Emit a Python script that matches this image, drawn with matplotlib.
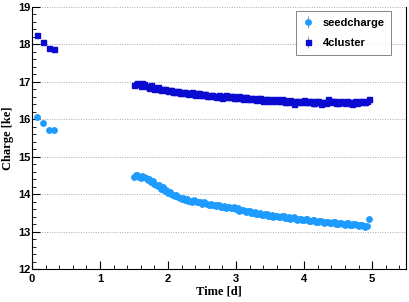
import matplotlib
matplotlib.use("Agg")
import matplotlib.pyplot as plt
from matplotlib.ticker import MultipleLocator

# early measurements (first hours)
t_early = [0.07, 0.16, 0.25, 0.33]
seed_early = [16.06, 15.90, 15.71, 15.71]
clus_early = [18.25, 18.06, 17.90, 17.87]

# long run, time in days
t_run = [1.500, 1.525, 1.550, 1.575, 1.600, 1.625, 1.650, 1.675, 1.700, 1.725,
         1.750, 1.775, 1.800, 1.825, 1.850, 1.875, 1.900, 1.925, 1.950, 1.975,
         2.000, 2.025, 2.050, 2.075, 2.100, 2.125, 2.150, 2.175, 2.200, 2.225,
         2.250, 2.275, 2.300, 2.325, 2.350, 2.375, 2.400, 2.425, 2.450, 2.475,
         2.500, 2.525, 2.550, 2.575, 2.600, 2.625, 2.650, 2.675, 2.700, 2.725,
         2.750, 2.775, 2.800, 2.825, 2.850, 2.875, 2.900, 2.925, 2.950, 2.975,
         3.000, 3.025, 3.050, 3.075, 3.100, 3.125, 3.150, 3.175, 3.200, 3.225,
         3.250, 3.275, 3.300, 3.325, 3.350, 3.375, 3.400, 3.425, 3.450, 3.475,
         3.500, 3.525, 3.550, 3.575, 3.600, 3.625, 3.650, 3.675, 3.700, 3.725,
         3.750, 3.775, 3.800, 3.825, 3.850, 3.875, 3.900, 3.925, 3.950, 3.975,
         4.000, 4.025, 4.050, 4.075, 4.100, 4.125, 4.150, 4.175, 4.200, 4.225,
         4.250, 4.275, 4.300, 4.325, 4.350, 4.375, 4.400, 4.425, 4.450, 4.475,
         4.500, 4.525, 4.550, 4.575, 4.600, 4.625, 4.650, 4.675, 4.700, 4.725,
         4.750, 4.775, 4.800, 4.825, 4.850, 4.875, 4.900, 4.925, 4.950]

clus_run = [16.92, 16.95, 16.97, 16.93, 16.90, 16.96, 16.95, 16.89, 16.88, 16.84,
            16.91, 16.85, 16.82, 16.84, 16.86, 16.80, 16.78, 16.81, 16.80, 16.77,
            16.75, 16.79, 16.78, 16.73, 16.72, 16.75, 16.76, 16.71, 16.70, 16.73,
            16.74, 16.69, 16.68, 16.71, 16.72, 16.67, 16.66, 16.70, 16.70, 16.65,
            16.64, 16.67, 16.68, 16.63, 16.62, 16.66, 16.66, 16.61, 16.60, 16.63,
            16.64, 16.59, 16.58, 16.62, 16.65, 16.60, 16.59, 16.63, 16.62, 16.57,
            16.56, 16.60, 16.61, 16.57, 16.55, 16.59, 16.60, 16.54, 16.53, 16.57,
            16.58, 16.54, 16.52, 16.56, 16.57, 16.51, 16.50, 16.54, 16.55, 16.50,
            16.51, 16.55, 16.49, 16.52, 16.54, 16.50, 16.48, 16.53, 16.52, 16.47,
            16.47, 16.50, 16.51, 16.46, 16.42, 16.49, 16.50, 16.45, 16.46, 16.50,
            16.52, 16.47, 16.45, 16.49, 16.49, 16.44, 16.44, 16.48, 16.50, 16.45,
            16.40, 16.46, 16.47, 16.43, 16.53, 16.48, 16.45, 16.50, 16.48, 16.44,
            16.43, 16.47, 16.49, 16.45, 16.44, 16.48, 16.47, 16.43, 16.42, 16.46,
            16.48, 16.44, 16.45, 16.49, 16.50, 16.46, 16.46, 16.50, 16.55]

seed_run = [14.45, 14.52, 14.50, 14.46, 14.42, 14.48, 14.47, 14.42, 14.38, 14.40,
            14.33, 14.35, 14.28, 14.25, 14.22, 14.24, 14.15, 14.18, 14.08, 14.10,
            14.03, 14.06, 14.00, 13.97, 13.95, 13.98, 13.92, 13.89, 13.88, 13.90,
            13.85, 13.87, 13.83, 13.81, 13.80, 13.84, 13.82, 13.79, 13.78, 13.80,
            13.75, 13.78, 13.77, 13.74, 13.72, 13.75, 13.70, 13.72, 13.68, 13.70,
            13.71, 13.67, 13.66, 13.69, 13.64, 13.66, 13.67, 13.63, 13.62, 13.65,
            13.60, 13.62, 13.55, 13.58, 13.58, 13.54, 13.52, 13.56, 13.55, 13.51,
            13.50, 13.53, 13.46, 13.48, 13.49, 13.45, 13.44, 13.47, 13.47, 13.43,
            13.42, 13.45, 13.40, 13.42, 13.43, 13.39, 13.38, 13.41, 13.41, 13.37,
            13.36, 13.39, 13.34, 13.37, 13.38, 13.34, 13.32, 13.35, 13.35, 13.31,
            13.30, 13.33, 13.33, 13.29, 13.28, 13.31, 13.31, 13.27, 13.26, 13.29,
            13.29, 13.25, 13.24, 13.27, 13.27, 13.23, 13.22, 13.25, 13.25, 13.21,
            13.21, 13.24, 13.24, 13.20, 13.19, 13.22, 13.22, 13.18, 13.18, 13.21,
            13.21, 13.17, 13.16, 13.19, 13.19, 13.15, 13.12, 13.16, 13.33]

err = 0.03
seed_col = "#1e9bff"
clus_col = "#0a0ad0"

fig = plt.figure(figsize=(4.09, 3.02), dpi=100)
ax = fig.add_axes([0.078, 0.109, 0.915, 0.868])

ax.errorbar(t_early + t_run, seed_early + seed_run, yerr=err, fmt="o", ms=3.9,
            color=seed_col, ecolor="#888888", elinewidth=0.6, capsize=0, label="seedcharge")
ax.errorbar(t_early + t_run, clus_early + clus_run, yerr=err, fmt="s", ms=3.6,
            color=clus_col, ecolor="#888888", elinewidth=0.6, capsize=0, label="4cluster")

ax.set_xlim(0, 5.5)
ax.set_ylim(12, 19)
ax.xaxis.set_major_locator(MultipleLocator(1))
ax.xaxis.set_minor_locator(MultipleLocator(0.2))
ax.yaxis.set_major_locator(MultipleLocator(1))
ax.yaxis.set_minor_locator(MultipleLocator(0.2))
ax.tick_params(which="both", direction="in", labelsize=8, top=False, right=False)
ax.tick_params(which="major", length=6, width=0.8)
ax.tick_params(which="minor", length=3, width=0.6)
for lab in ax.get_xticklabels() + ax.get_yticklabels():
    lab.set_fontweight("bold")
    lab.set_family("Liberation Sans")
ax.tick_params(axis="x", pad=3.5)
ax.tick_params(axis="y", pad=1)

ax.yaxis.grid(True, linestyle=(0, (1, 1.5)), color="#aaaaaa", linewidth=0.7)
ax.spines["top"].set_visible(False)
ax.spines["right"].set_linewidth(0.8)
ax.spines["left"].set_linewidth(0.8)
ax.spines["bottom"].set_linewidth(0.8)

ax.set_xlabel("Time [d]", family="Liberation Serif", fontweight="bold", fontsize=9, labelpad=1)
ax.set_ylabel("Charge [ke]", family="Liberation Serif", fontweight="bold", fontsize=9, labelpad=3)

leg = ax.legend(loc="upper right", bbox_to_anchor=(0.975, 1.005), frameon=True, fancybox=False,
                prop={"family": "Liberation Sans", "weight": "bold", "size": 8},
                handlelength=1.0, borderpad=0.6, labelspacing=0.9)
leg.get_frame().set_edgecolor("#666666")
leg.get_frame().set_linewidth(0.7)

fig.savefig("out.png", dpi=100)
